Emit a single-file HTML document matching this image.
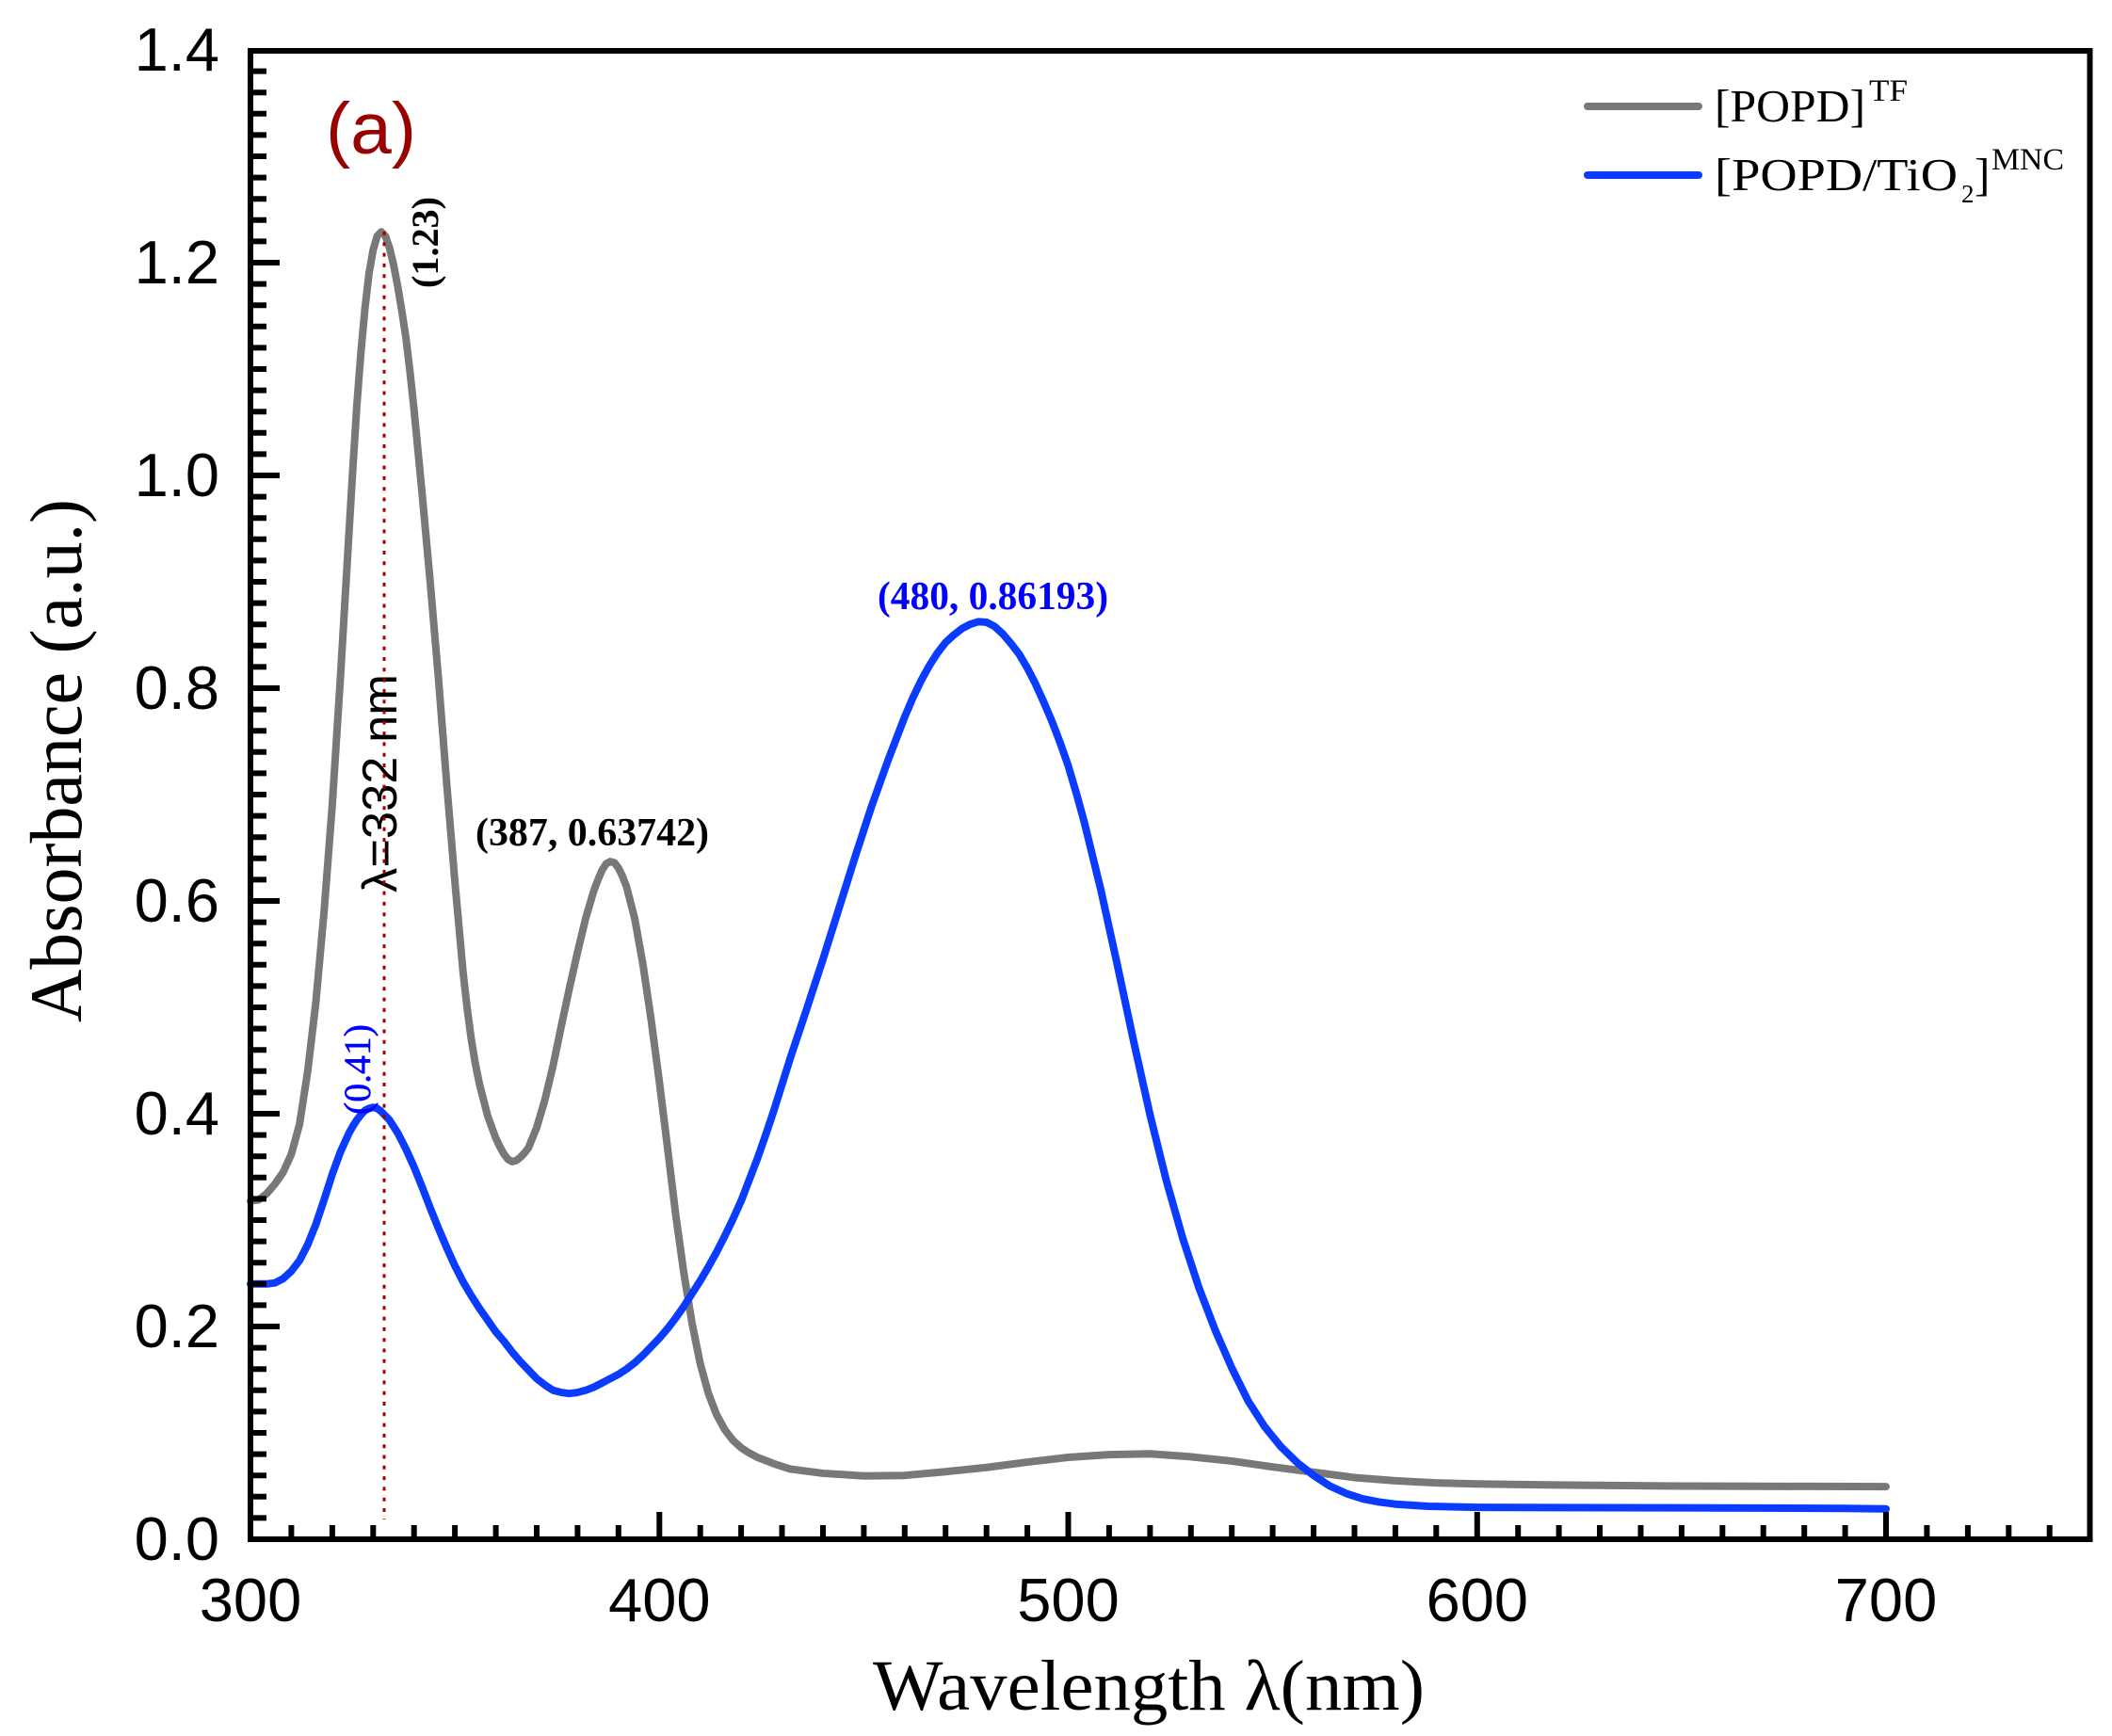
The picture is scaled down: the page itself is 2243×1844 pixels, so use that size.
<!DOCTYPE html>
<html>
<head>
<meta charset="utf-8">
<style>
html,body{margin:0;padding:0;background:#fff;}
svg{display:block;}
</style>
</head>
<body>
<svg width="2243" height="1844" viewBox="0 0 2243 1844" xmlns="http://www.w3.org/2000/svg">
<rect x="0" y="0" width="2243" height="1844" fill="#fff"/>

<!-- curves -->
<g transform="matrix(4.3425 0 0 -1130 -1036.75 1635)">
<polyline fill="none" stroke="#787878" stroke-width="8" stroke-linejoin="round" stroke-linecap="round" vector-effect="non-scaling-stroke"
points="300,0.318 302,0.319 304,0.325 306,0.334 308,0.345 310,0.362 312,0.39 314,0.44 316,0.505 318,0.59 320,0.69 322,0.81 324,0.94 325,1.004 326,1.065 327,1.115 328,1.157 329,1.19 330,1.212 331,1.225 332,1.229 333,1.225 334,1.214 335,1.198 336,1.178 337,1.155 338,1.13 339,1.098 340,1.062 342,0.982 344,0.898 346,0.808 348,0.71 350,0.618 352,0.533 353,0.499 354,0.47 355,0.447 356,0.428 358,0.398 360,0.377 361,0.369 362,0.362 363,0.357 364,0.355 365,0.356 366,0.359 367,0.363 368,0.368 370,0.387 372,0.413 374,0.445 376,0.482 378,0.518 380,0.552 382,0.584 384,0.61 385,0.62 386,0.629 387,0.635 388,0.637 389,0.636 390,0.631 391,0.623 392,0.613 394,0.583 396,0.54 398,0.488 400,0.43 402,0.368 404,0.305 406,0.25 408,0.203 410,0.165 412,0.137 414,0.117 416,0.103 418,0.093 420,0.086 422,0.081 424,0.077 428,0.071 432,0.066 436,0.064 440,0.062 450,0.0595 460,0.06 470,0.0635 480,0.0675 490,0.0725 500,0.077 510,0.0795 520,0.0803 530,0.0775 540,0.0735 550,0.068 560,0.063 570,0.058 580,0.055 590,0.053 600,0.052 620,0.051 650,0.05 700,0.0495"/>
<polyline fill="none" stroke="#0a3cff" stroke-width="8" stroke-linejoin="round" stroke-linecap="round" vector-effect="non-scaling-stroke"
points="300,0.24 304,0.24 306,0.241 308,0.245 310,0.252 312,0.262 314,0.277 316,0.296 318,0.319 320,0.343 322,0.364 324,0.381 325,0.388 326,0.394 327,0.399 328,0.403 329,0.405 330,0.406 331,0.405 332,0.402 333,0.398 334,0.394 336,0.382 338,0.367 340,0.35 342,0.331 344,0.311 346,0.292 348,0.274 350,0.257 352,0.242 354,0.229 356,0.217 358,0.206 360,0.195 362,0.186 364,0.176 366,0.167 368,0.159 370,0.151 372,0.145 374,0.14 376,0.138 378,0.137 380,0.138 382,0.14 384,0.143 386,0.147 388,0.151 390,0.155 392,0.16 394,0.166 396,0.173 398,0.181 400,0.189 402,0.198 404,0.208 406,0.219 408,0.231 410,0.243 412,0.256 414,0.27 416,0.285 418,0.301 420,0.318 422,0.338 424,0.358 426,0.38 428,0.403 432,0.452 436,0.498 440,0.545 444,0.594 448,0.643 452,0.69 456,0.733 460,0.773 462,0.791 464,0.807 466,0.821 468,0.833 470,0.843 472,0.85 474,0.856 476,0.86 478,0.8625 480,0.862 482,0.858 484,0.851 486,0.842 488,0.832 490,0.819 492,0.804 494,0.787 496,0.769 498,0.749 500,0.727 502,0.701 504,0.673 508,0.61 512,0.54 516,0.468 520,0.399 524,0.337 528,0.283 532,0.236 536,0.196 540,0.161 544,0.13 548,0.106 552,0.087 556,0.072 560,0.06 564,0.05 568,0.043 572,0.038 576,0.035 580,0.033 588,0.031 600,0.030 650,0.0295 690,0.029 700,0.0285"/>
</g>

<!-- frame -->
<rect x="266" y="54" width="1953.5" height="1581" fill="none" stroke="#000" stroke-width="6"/>

<!-- y ticks -->
<path stroke="#000" stroke-width="6" fill="none" d="
M266 1612.4h17 M266 1589.8h17 M266 1567.2h17 M266 1544.6h17 M266 1522h17 M266 1499.4h17 M266 1476.8h17 M266 1454.2h17 M266 1431.6h17 M266 1409h31
M266 1386.4h17 M266 1363.8h17 M266 1341.2h17 M266 1318.6h17 M266 1296h17 M266 1273.4h17 M266 1250.8h17 M266 1228.2h17 M266 1205.6h17 M266 1183h31
M266 1160.4h17 M266 1137.8h17 M266 1115.2h17 M266 1092.6h17 M266 1070h17 M266 1047.4h17 M266 1024.8h17 M266 1002.2h17 M266 979.6h17 M266 957h31
M266 934.4h17 M266 911.8h17 M266 889.2h17 M266 866.6h17 M266 844h17 M266 821.4h17 M266 798.8h17 M266 776.2h17 M266 753.6h17 M266 731h31
M266 708.4h17 M266 685.8h17 M266 663.2h17 M266 640.6h17 M266 618h17 M266 595.4h17 M266 572.8h17 M266 550.2h17 M266 527.6h17 M266 505h31
M266 482.4h17 M266 459.8h17 M266 437.2h17 M266 414.6h17 M266 392h17 M266 369.4h17 M266 346.8h17 M266 324.2h17 M266 301.6h17 M266 279h31
M266 256.4h17 M266 233.8h17 M266 211.2h17 M266 188.6h17 M266 166h17 M266 143.4h17 M266 120.8h17 M266 98.2h17 M266 75.6h17"/>

<!-- x ticks -->
<path stroke="#000" stroke-width="6" fill="none" d="
M309.4 1635v-15 M352.9 1635v-15 M396.3 1635v-15 M439.7 1635v-15 M483.1 1635v-15 M526.6 1635v-15 M570 1635v-15 M613.4 1635v-15 M656.8 1635v-15 M700.3 1635v-29
M743.7 1635v-15 M787.1 1635v-15 M830.5 1635v-15 M874 1635v-15 M917.4 1635v-15 M960.8 1635v-15 M1004.2 1635v-15 M1047.7 1635v-15 M1091.1 1635v-15 M1134.5 1635v-29
M1177.9 1635v-15 M1221.4 1635v-15 M1264.8 1635v-15 M1308.2 1635v-15 M1351.6 1635v-15 M1395.1 1635v-15 M1438.5 1635v-15 M1481.9 1635v-15 M1525.3 1635v-15 M1568.8 1635v-29
M1612.2 1635v-15 M1655.6 1635v-15 M1699 1635v-15 M1742.5 1635v-15 M1785.9 1635v-15 M1829.3 1635v-15 M1872.7 1635v-15 M1916.2 1635v-15 M1959.6 1635v-15 M2003 1635v-29
M2046.4 1635v-15 M2089.9 1635v-15 M2133.3 1635v-15 M2176.7 1635v-15"/>

<!-- y tick labels -->
<g font-family="'Liberation Sans', Arial, sans-serif" font-size="65" fill="#000" text-anchor="end">
<text x="233" y="75">1.4</text>
<text x="233" y="301">1.2</text>
<text x="233" y="527">1.0</text>
<text x="233" y="753">0.8</text>
<text x="233" y="979">0.6</text>
<text x="233" y="1205">0.4</text>
<text x="233" y="1431">0.2</text>
<text x="233" y="1657">0.0</text>
</g>
<!-- x tick labels -->
<g font-family="'Liberation Sans', Arial, sans-serif" font-size="65" fill="#000" text-anchor="middle">
<text x="266" y="1722">300</text>
<text x="700.3" y="1722">400</text>
<text x="1134.5" y="1722">500</text>
<text x="1568.8" y="1722">600</text>
<text x="2003" y="1722">700</text>
</g>

<!-- axis titles -->
<text x="927" y="1816" font-family="'Liberation Serif', 'Times New Roman', serif" font-size="76" fill="#000" textLength="586" lengthAdjust="spacingAndGlyphs">Wavelength λ(nm)</text>
<text transform="translate(86,808) rotate(-90)" text-anchor="middle" font-family="'Liberation Serif', 'Times New Roman', serif" font-size="78" fill="#000" textLength="556" lengthAdjust="spacingAndGlyphs">Absorbance (a.u.)</text>

<!-- (a) -->
<text x="346" y="163" font-family="'Liberation Sans', Arial, sans-serif" font-size="77" fill="#990000" textLength="96" lengthAdjust="spacingAndGlyphs">(a)</text>

<!-- legend -->
<line x1="1686" y1="113" x2="1804" y2="113" stroke="#787878" stroke-width="8" stroke-linecap="round"/>
<line x1="1686" y1="186" x2="1804" y2="186" stroke="#0a3cff" stroke-width="8" stroke-linecap="round"/>
<g font-family="'Liberation Serif', 'Times New Roman', serif" fill="#000">
<text x="1821" y="129" font-size="49" textLength="160" lengthAdjust="spacingAndGlyphs">[POPD]</text>
<text x="1985" y="107" font-size="33" textLength="41" lengthAdjust="spacingAndGlyphs">TF</text>
<text x="1821" y="202" font-size="49" textLength="258" lengthAdjust="spacingAndGlyphs">[POPD/TiO</text>
<text x="2083" y="215" font-size="27">2</text>
<text x="2097" y="202" font-size="49">]</text>
<text x="2115" y="180" font-size="33" textLength="77" lengthAdjust="spacingAndGlyphs">MNC</text>
</g>

<!-- annotations -->
<g font-family="'Liberation Serif', 'Times New Roman', serif" font-size="42">
<text x="505" y="898" fill="#000" font-weight="bold" textLength="248" lengthAdjust="spacingAndGlyphs">(387, 0.63742)</text>
<text x="932" y="647" fill="#0000ff" font-weight="bold" textLength="245" lengthAdjust="spacingAndGlyphs">(480, 0.86193)</text>
<text transform="translate(465,257.5) rotate(-90)" text-anchor="middle" font-size="40" font-weight="bold" fill="#000" textLength="97" lengthAdjust="spacingAndGlyphs">(1.23)</text>
<text transform="translate(393,1136) rotate(-90)" text-anchor="middle" font-size="40" fill="#0000ff" stroke="#0000ff" stroke-width="0.5" textLength="96" lengthAdjust="spacingAndGlyphs">(0.41)</text>
</g>
<text transform="translate(421,832) rotate(-90)" text-anchor="middle" font-family="'Liberation Sans', Arial, sans-serif" font-size="52" fill="#000" textLength="232" lengthAdjust="spacingAndGlyphs">λ=332 nm</text>

<!-- dotted marker line -->
<line x1="408" y1="246" x2="408" y2="1614" stroke="#a00000" stroke-width="3" stroke-dasharray="4 7.3"/>
</svg>
</body>
</html>
